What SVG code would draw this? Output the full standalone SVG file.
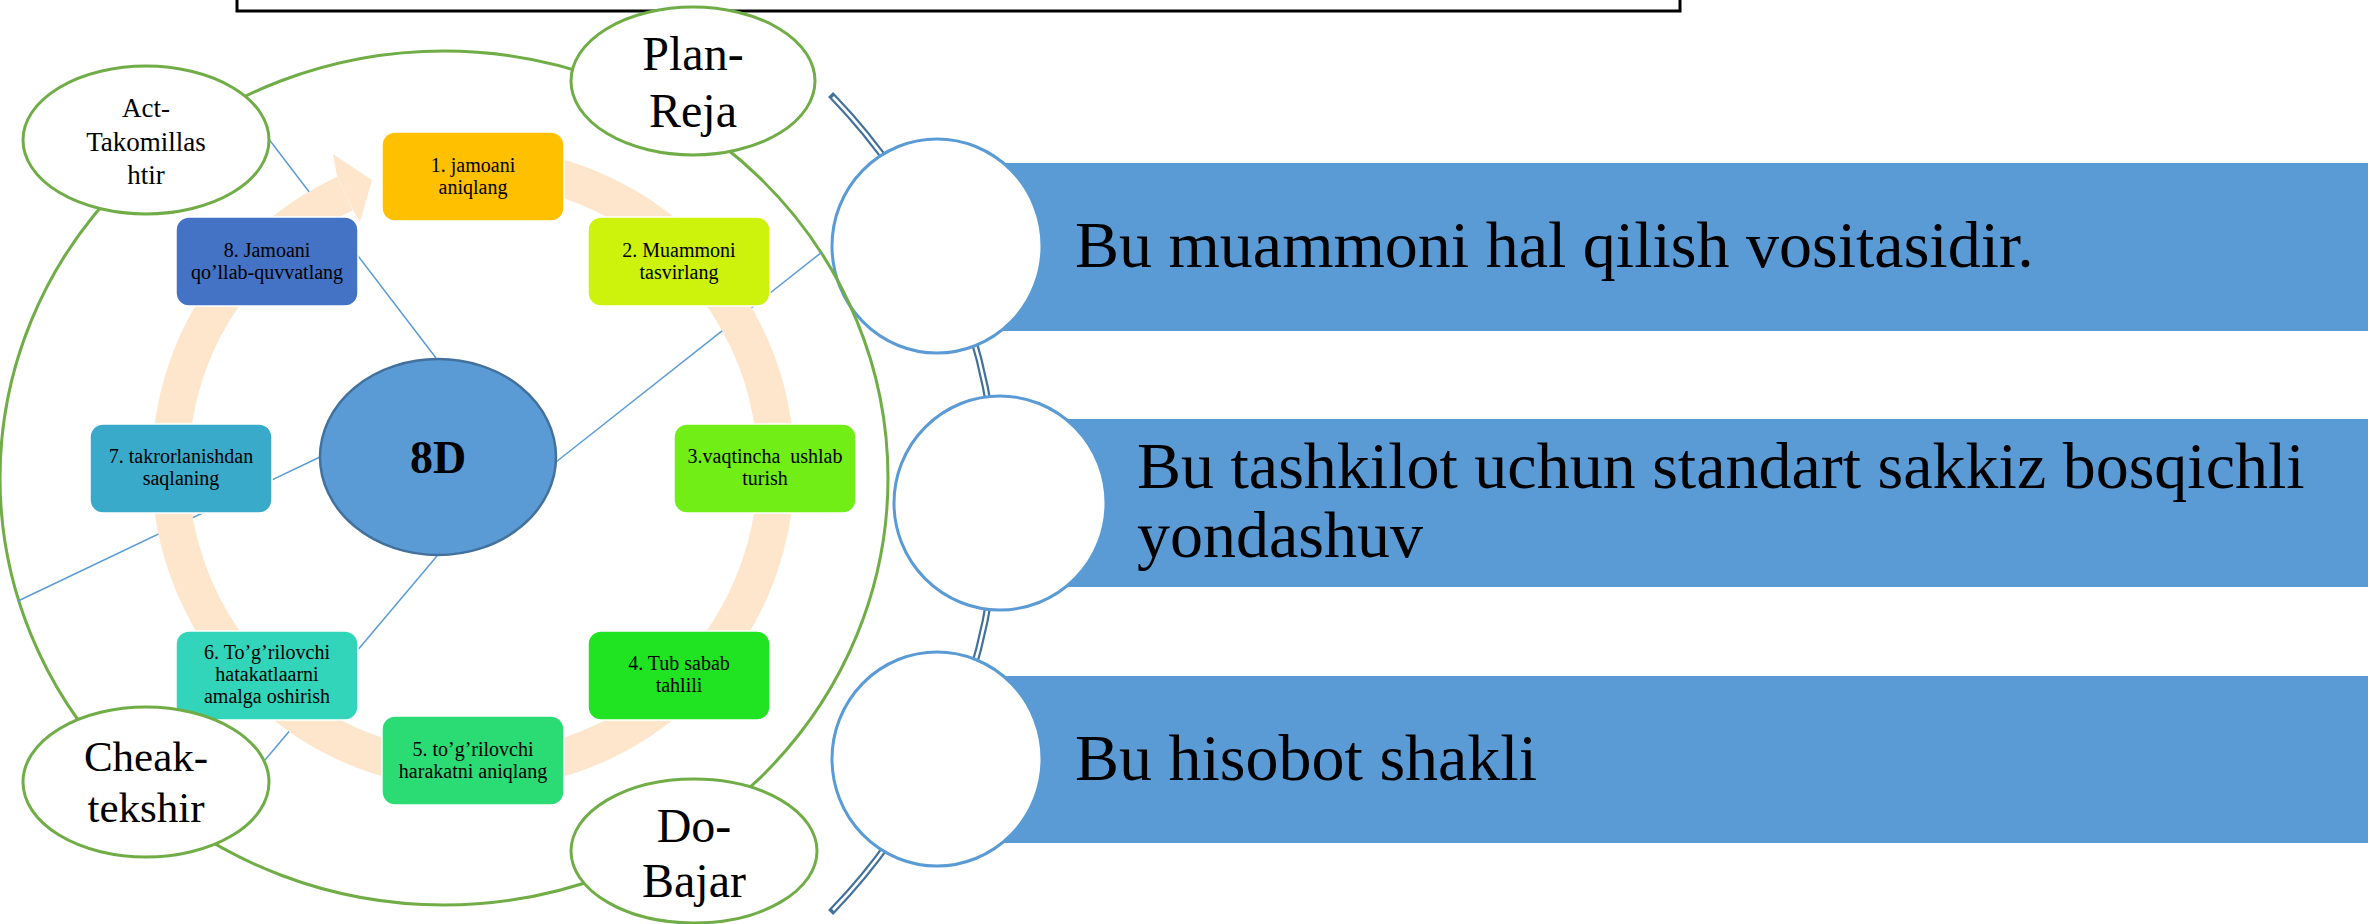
<svg xmlns="http://www.w3.org/2000/svg" width="2368" height="924" viewBox="0 0 2368 924">
<style>
.serif{font-family:"Liberation Serif","Times New Roman",serif;fill:#000}
.box{stroke:#ffffff;stroke-width:1.5}
.bt{font-size:20px;text-anchor:middle}
.pd{fill:#ffffff;stroke:#70AD47;stroke-width:3}
.lnk{stroke:#5B9BD5;stroke-width:1.5;fill:none}
.bar{fill:#5B9BD5}
.bel{fill:#ffffff;stroke:#5B9BD5;stroke-width:3}
.btx{font-size:66px}
</style>
<rect width="2368" height="924" fill="#ffffff"/>

<g id="spine">
<path d="M 833 97 A 586 586 0 0 1 833 910" fill="none" stroke="#41719C" stroke-width="7" stroke-linecap="square"/>
<path d="M 833 97 A 586 586 0 0 1 833 910" fill="none" stroke="#ffffff" stroke-width="2.6"/>
</g>

<g id="bar1">
<rect class="bar" x="937" y="163" width="1431" height="168"/>
<ellipse class="bel" cx="937" cy="246" rx="105" ry="107"/>
<text class="serif btx" x="1075" y="267">Bu muammoni hal qilish vositasidir.</text>
</g>
<g id="bar2">
<rect class="bar" x="1000" y="419" width="1368" height="168"/>
<ellipse class="bel" cx="1000" cy="503" rx="106" ry="107"/>
<text class="serif btx" x="1137" y="488">Bu tashkilot uchun standart sakkiz bosqichli</text>
<text class="serif btx" x="1137" y="557">yondashuv</text>
</g>
<g id="bar3">
<rect class="bar" x="937" y="676" width="1431" height="167"/>
<ellipse class="bel" cx="937" cy="759" rx="105" ry="107"/>
<text class="serif btx" x="1075" y="780">Bu hisobot shakli</text>
</g>

<g id="topbox">
<rect x="237" y="-20" width="1443" height="31" fill="none" stroke="#000000" stroke-width="3"/>
</g>

<g id="outer-cycle">
<ellipse cx="444" cy="478" rx="444" ry="427" fill="none" stroke="#70AD47" stroke-width="3"/>
</g>

<g id="connectors">
<line class="lnk" x1="268" y1="138" x2="436" y2="358"/>
<line class="lnk" x1="556" y1="462" x2="822" y2="252"/>
<line class="lnk" x1="320" y1="457" x2="18" y2="601"/>
<line class="lnk" x1="437" y1="556" x2="265" y2="760"/>
</g>

<g id="ring">
<path d="M 483.6 165.2 A 303 303 0 1 1 345.0 193.4" fill="none" stroke="#FDE6CC" stroke-width="37"/>
<polygon points="337,176 333,154 372,180 360,222 353,210" fill="#FDE6CC"/>
</g>

<g id="step1"><rect class="box" x="382" y="132" width="182" height="89" rx="13" fill="#FFC000"/>
<text class="serif bt" x="473" y="172">1. jamoani</text><text class="serif bt" x="473" y="194">aniqlang</text></g>
<g id="step2"><rect class="box" x="588" y="217" width="182" height="89" rx="13" fill="#CDF20C"/>
<text class="serif bt" x="679" y="257">2. Muammoni</text><text class="serif bt" x="679" y="279">tasvirlang</text></g>
<g id="step3"><rect class="box" x="674" y="424" width="182" height="89" rx="13" fill="#70EE16"/>
<text class="serif bt" x="765" y="463" word-spacing="5">3.vaqtincha ushlab</text><text class="serif bt" x="765" y="485">turish</text></g>
<g id="step4"><rect class="box" x="588" y="631" width="182" height="89" rx="13" fill="#20E322"/>
<text class="serif bt" x="679" y="670">4. Tub sabab</text><text class="serif bt" x="679" y="692">tahlili</text></g>
<g id="step5"><rect class="box" x="382" y="716" width="182" height="89" rx="13" fill="#2BDC75"/>
<text class="serif bt" x="473" y="756">5. to’g’rilovchi</text><text class="serif bt" x="473" y="778">harakatni aniqlang</text></g>
<g id="step6"><rect class="box" x="176" y="631" width="182" height="89" rx="13" fill="#33D5BA"/>
<text class="serif bt" x="267" y="659">6. To’g’rilovchi</text><text class="serif bt" x="267" y="681">hatakatlaarni</text><text class="serif bt" x="267" y="703">amalga oshirish</text></g>
<g id="step7"><rect class="box" x="90" y="424" width="182" height="89" rx="13" fill="#3AAACA"/>
<text class="serif bt" x="181" y="463">7. takrorlanishdan</text><text class="serif bt" x="181" y="485">saqlaning</text></g>
<g id="step8"><rect class="box" x="176" y="217" width="182" height="89" rx="13" fill="#4472C4"/>
<text class="serif bt" x="267" y="257">8. Jamoani</text><text class="serif bt" x="267" y="279">qo’llab-quvvatlang</text></g>

<g id="center8D">
<ellipse cx="438" cy="457" rx="118" ry="98" fill="#5B9BD5" stroke="#41719C" stroke-width="2.5"/>
<text class="serif" x="438" y="473" font-size="46" font-weight="bold" text-anchor="middle">8D</text>
</g>

<g id="plan"><ellipse class="pd" cx="693" cy="81" rx="122" ry="74"/>
<text class="serif" x="693" y="70" font-size="48" text-anchor="middle">Plan-</text>
<text class="serif" x="693" y="127" font-size="48" text-anchor="middle">Reja</text></g>
<g id="act"><ellipse class="pd" cx="146" cy="140" rx="123" ry="74"/>
<text class="serif" x="146" y="117" font-size="27" text-anchor="middle">Act-</text>
<text class="serif" x="146" y="151" font-size="27" text-anchor="middle">Takomillas</text>
<text class="serif" x="146" y="184" font-size="27" text-anchor="middle">htir</text></g>
<g id="check"><ellipse class="pd" cx="146" cy="782" rx="123" ry="75"/>
<text class="serif" x="146" y="771" font-size="43" text-anchor="middle">Cheak-</text>
<text class="serif" x="146" y="822" font-size="43" text-anchor="middle">tekshir</text></g>
<g id="do"><ellipse class="pd" cx="694" cy="851" rx="123" ry="72"/>
<text class="serif" x="694" y="842" font-size="48" text-anchor="middle">Do-</text>
<text class="serif" x="694" y="897" font-size="48" text-anchor="middle">Bajar</text></g>
</svg>
